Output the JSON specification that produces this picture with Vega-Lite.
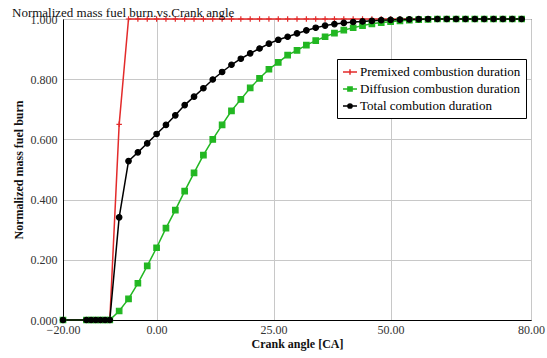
{
  "$schema": "https://vega.github.io/schema/vega-lite/v6.json",
  "width": 468,
  "height": 301,
  "autosize": "none",
  "padding": {"left": 63, "top": 19, "right": 16, "bottom": 38},
  "background": "white",
  "title": {"text": "Normalized mass fuel burn.vs.Crank angle", "anchor": "start", "font": "Liberation Serif", "fontSize": 13, "fontWeight": "normal", "color": "#111", "offset": -7},
  "config": {
    "font": "Liberation Serif",
    "view": {"stroke": "black", "strokeWidth": 1},
    "axis": {"labelFont": "Liberation Serif", "labelFontSize": 12, "labelColor": "#333", "labelFlush": false, "titleFont": "Liberation Serif", "titleFontSize": 12, "titleFontWeight": "bold", "titleColor": "#111", "domainColor": "black", "ticks": false, "gridColor": "#c8c8c8", "gridWidth": 1},
    "legend": {"labelFont": "Liberation Serif", "labelLimit": 0}
  },
  "data": {"values": [
    {"s":"P","x":-20,"y":0},{"s":"P","x":-15,"y":0},{"s":"P","x":-14,"y":0},{"s":"P","x":-13,"y":0},{"s":"P","x":-12,"y":0},{"s":"P","x":-11,"y":0},{"s":"P","x":-10,"y":0},
    {"s":"P","x":-8,"y":0.65},{"s":"P","x":-6,"y":1},{"s":"P","x":-4,"y":1},{"s":"P","x":-2,"y":1},{"s":"P","x":0,"y":1},{"s":"P","x":2,"y":1},{"s":"P","x":4,"y":1},{"s":"P","x":6,"y":1},{"s":"P","x":8,"y":1},{"s":"P","x":10,"y":1},{"s":"P","x":12,"y":1},{"s":"P","x":14,"y":1},{"s":"P","x":16,"y":1},{"s":"P","x":18,"y":1},{"s":"P","x":20,"y":1},{"s":"P","x":22,"y":1},{"s":"P","x":24,"y":1},{"s":"P","x":26,"y":1},{"s":"P","x":28,"y":1},{"s":"P","x":30,"y":1},{"s":"P","x":32,"y":1},{"s":"P","x":34,"y":1},{"s":"P","x":36,"y":1},{"s":"P","x":38,"y":1},{"s":"P","x":40,"y":1},{"s":"P","x":42,"y":1},{"s":"P","x":44,"y":1},{"s":"P","x":46,"y":1},{"s":"P","x":48,"y":1},{"s":"P","x":50,"y":1},{"s":"P","x":52,"y":1},{"s":"P","x":54,"y":1},{"s":"P","x":56,"y":1},{"s":"P","x":58,"y":1},{"s":"P","x":60,"y":1},{"s":"P","x":62,"y":1},{"s":"P","x":64,"y":1},{"s":"P","x":66,"y":1},{"s":"P","x":68,"y":1},{"s":"P","x":70,"y":1},{"s":"P","x":72,"y":1},{"s":"P","x":74,"y":1},{"s":"P","x":76,"y":1},{"s":"P","x":78,"y":1},
    {"s":"D","x":-20,"y":0},{"s":"D","x":-15,"y":0},{"s":"D","x":-14,"y":0},{"s":"D","x":-13,"y":0},{"s":"D","x":-12,"y":0},{"s":"D","x":-11,"y":0},{"s":"D","x":-10,"y":0},
    {"s":"D","x":-8,"y":0.03},{"s":"D","x":-6,"y":0.07},{"s":"D","x":-4,"y":0.122},{"s":"D","x":-2,"y":0.18},{"s":"D","x":0,"y":0.24},{"s":"D","x":2,"y":0.305},{"s":"D","x":4,"y":0.365},{"s":"D","x":6,"y":0.428},{"s":"D","x":8,"y":0.489},{"s":"D","x":10,"y":0.548},{"s":"D","x":12,"y":0.6},{"s":"D","x":14,"y":0.648},{"s":"D","x":16,"y":0.695},{"s":"D","x":18,"y":0.733},{"s":"D","x":20,"y":0.771},{"s":"D","x":22,"y":0.803},{"s":"D","x":24,"y":0.833},{"s":"D","x":26,"y":0.856},{"s":"D","x":28,"y":0.88},{"s":"D","x":30,"y":0.896},{"s":"D","x":32,"y":0.913},{"s":"D","x":34,"y":0.928},{"s":"D","x":36,"y":0.941},{"s":"D","x":38,"y":0.953},{"s":"D","x":40,"y":0.963},{"s":"D","x":42,"y":0.971},{"s":"D","x":44,"y":0.978},{"s":"D","x":46,"y":0.984},{"s":"D","x":48,"y":0.988},{"s":"D","x":50,"y":0.991},{"s":"D","x":52,"y":0.994},{"s":"D","x":54,"y":0.996},{"s":"D","x":56,"y":0.998},{"s":"D","x":58,"y":0.999},{"s":"D","x":60,"y":1},{"s":"D","x":62,"y":1},{"s":"D","x":64,"y":1},{"s":"D","x":66,"y":1},{"s":"D","x":68,"y":1},{"s":"D","x":70,"y":1},{"s":"D","x":72,"y":1},{"s":"D","x":74,"y":1},{"s":"D","x":76,"y":1},{"s":"D","x":78,"y":1},
    {"s":"T","x":-20,"y":0},{"s":"T","x":-15,"y":0},{"s":"T","x":-14,"y":0},{"s":"T","x":-13,"y":0},{"s":"T","x":-12,"y":0},{"s":"T","x":-11,"y":0},{"s":"T","x":-10,"y":0},
    {"s":"T","x":-8,"y":0.341},{"s":"T","x":-6,"y":0.528},{"s":"T","x":-4,"y":0.557},{"s":"T","x":-2,"y":0.587},{"s":"T","x":0,"y":0.618},{"s":"T","x":2,"y":0.648},{"s":"T","x":4,"y":0.68},{"s":"T","x":6,"y":0.714},{"s":"T","x":8,"y":0.742},{"s":"T","x":10,"y":0.77},{"s":"T","x":12,"y":0.799},{"s":"T","x":14,"y":0.824},{"s":"T","x":16,"y":0.848},{"s":"T","x":18,"y":0.868},{"s":"T","x":20,"y":0.886},{"s":"T","x":22,"y":0.902},{"s":"T","x":24,"y":0.918},{"s":"T","x":26,"y":0.931},{"s":"T","x":28,"y":0.941},{"s":"T","x":30,"y":0.952},{"s":"T","x":32,"y":0.962},{"s":"T","x":34,"y":0.971},{"s":"T","x":36,"y":0.978},{"s":"T","x":38,"y":0.983},{"s":"T","x":40,"y":0.987},{"s":"T","x":42,"y":0.99},{"s":"T","x":44,"y":0.992},{"s":"T","x":46,"y":0.994},{"s":"T","x":48,"y":0.996},{"s":"T","x":50,"y":0.997},{"s":"T","x":52,"y":0.998},{"s":"T","x":54,"y":0.999},{"s":"T","x":56,"y":0.9995},{"s":"T","x":58,"y":1},{"s":"T","x":60,"y":1},{"s":"T","x":62,"y":1},{"s":"T","x":64,"y":1},{"s":"T","x":66,"y":1},{"s":"T","x":68,"y":1},{"s":"T","x":70,"y":1},{"s":"T","x":72,"y":1},{"s":"T","x":74,"y":1},{"s":"T","x":76,"y":1},{"s":"T","x":78,"y":1}
  ]},
  "encoding": {
    "x": {"field": "x", "type": "quantitative", "scale": {"domain": [-20, 80], "nice": false, "zero": false}, "axis": {"values": [-20, 0, 25, 50, 80], "format": ".2f", "labelPadding": 4, "title": "Crank angle [CA]", "titlePadding": 3}},
    "y": {"field": "y", "type": "quantitative", "scale": {"domain": [0, 1], "nice": false}, "axis": {"values": [0, 0.2, 0.4, 0.6, 0.8, 1], "format": ".3f", "labelPadding": 6, "title": "Normalized mass fuel burn", "titlePadding": 5}}
  },
  "layer": [
    {"mark": {"type": "line", "strokeWidth": 1.5}, "encoding": {"color": {"field": "s", "type": "nominal", "scale": {"domain": ["P", "D", "T"], "range": ["#e32b2b", "#22b722", "#000000"]}, "legend": null}}},
    {"mark": {"type": "point", "filled": true, "strokeWidth": 1.2, "size": 30, "opacity": 1},
     "encoding": {
       "fill": {"field": "s", "type": "nominal", "scale": {"domain": ["P", "D", "T"], "range": ["#e32b2b", "#22b722", "#000000"]}, "legend": null},
       "stroke": {"field": "s", "type": "nominal", "scale": {"domain": ["P", "D", "T"], "range": ["#e32b2b", "#22b722", "#000000"]}, "legend": null},
       "shape": {"field": "s", "type": "nominal", "scale": {"domain": ["P", "D", "T"], "range": ["M-1,0H1M0,-1V1", "square", "circle"]}, "legend": null}
     }},
    {"mark": {"type": "point", "filled": true, "size": 0, "strokeWidth": 1.5},
     "encoding": {
       "fill": {"field": "s", "type": "nominal", "scale": {"domain": ["P", "D", "T"], "range": ["#e32b2b", "#22b722", "#000000"]}, "legend": {"orient": "none", "legendX": 274, "legendY": 40, "title": null, "strokeColor": "black", "fillColor": "white", "padding": 5, "symbolSize": 196, "symbolStrokeWidth": 1.5, "symbolOpacity": 1, "labelFont": "Liberation Serif", "labelFontSize": 13, "labelColor": "#000", "labelOffset": 2, "labelLimit": 0, "rowPadding": 2, "labelExpr": "datum.label == 'P' ? 'Premixed combustion duration' : datum.label == 'D' ? 'Diffusion combustion duration' : 'Total combution duration'"}},
       "stroke": {"field": "s", "type": "nominal", "scale": {"domain": ["P", "D", "T"], "range": ["#e32b2b", "#22b722", "#000000"]}, "legend": {"orient": "none", "legendX": 274, "legendY": 40, "title": null, "strokeColor": "black", "fillColor": "white", "padding": 5, "symbolSize": 196, "symbolStrokeWidth": 1.5, "symbolOpacity": 1, "labelFont": "Liberation Serif", "labelFontSize": 13, "labelColor": "#000", "labelOffset": 2, "labelLimit": 0, "rowPadding": 2, "labelExpr": "datum.label == 'P' ? 'Premixed combustion duration' : datum.label == 'D' ? 'Diffusion combustion duration' : 'Total combution duration'"}},
       "shape": {"field": "s", "type": "nominal", "scale": {"domain": ["P", "D", "T"], "range": ["M-1,0H1M0,-0.4V0.4", "M-1,0H1M-0.3,-0.3H0.3V0.3H-0.3Z", "M-1,0H1M0.3,0A0.3,0.3,0,1,1,-0.3,0A0.3,0.3,0,1,1,0.3,0Z"]}, "legend": {"orient": "none", "legendX": 274, "legendY": 40, "title": null, "strokeColor": "black", "fillColor": "white", "padding": 5, "symbolSize": 196, "symbolStrokeWidth": 1.5, "symbolOpacity": 1, "labelFont": "Liberation Serif", "labelFontSize": 13, "labelColor": "#000", "labelOffset": 2, "labelLimit": 0, "rowPadding": 2, "labelExpr": "datum.label == 'P' ? 'Premixed combustion duration' : datum.label == 'D' ? 'Diffusion combustion duration' : 'Total combution duration'"}}
     }}
  ],
  "resolve": {"scale": {"fill": "independent", "stroke": "independent", "shape": "independent"}}
}
